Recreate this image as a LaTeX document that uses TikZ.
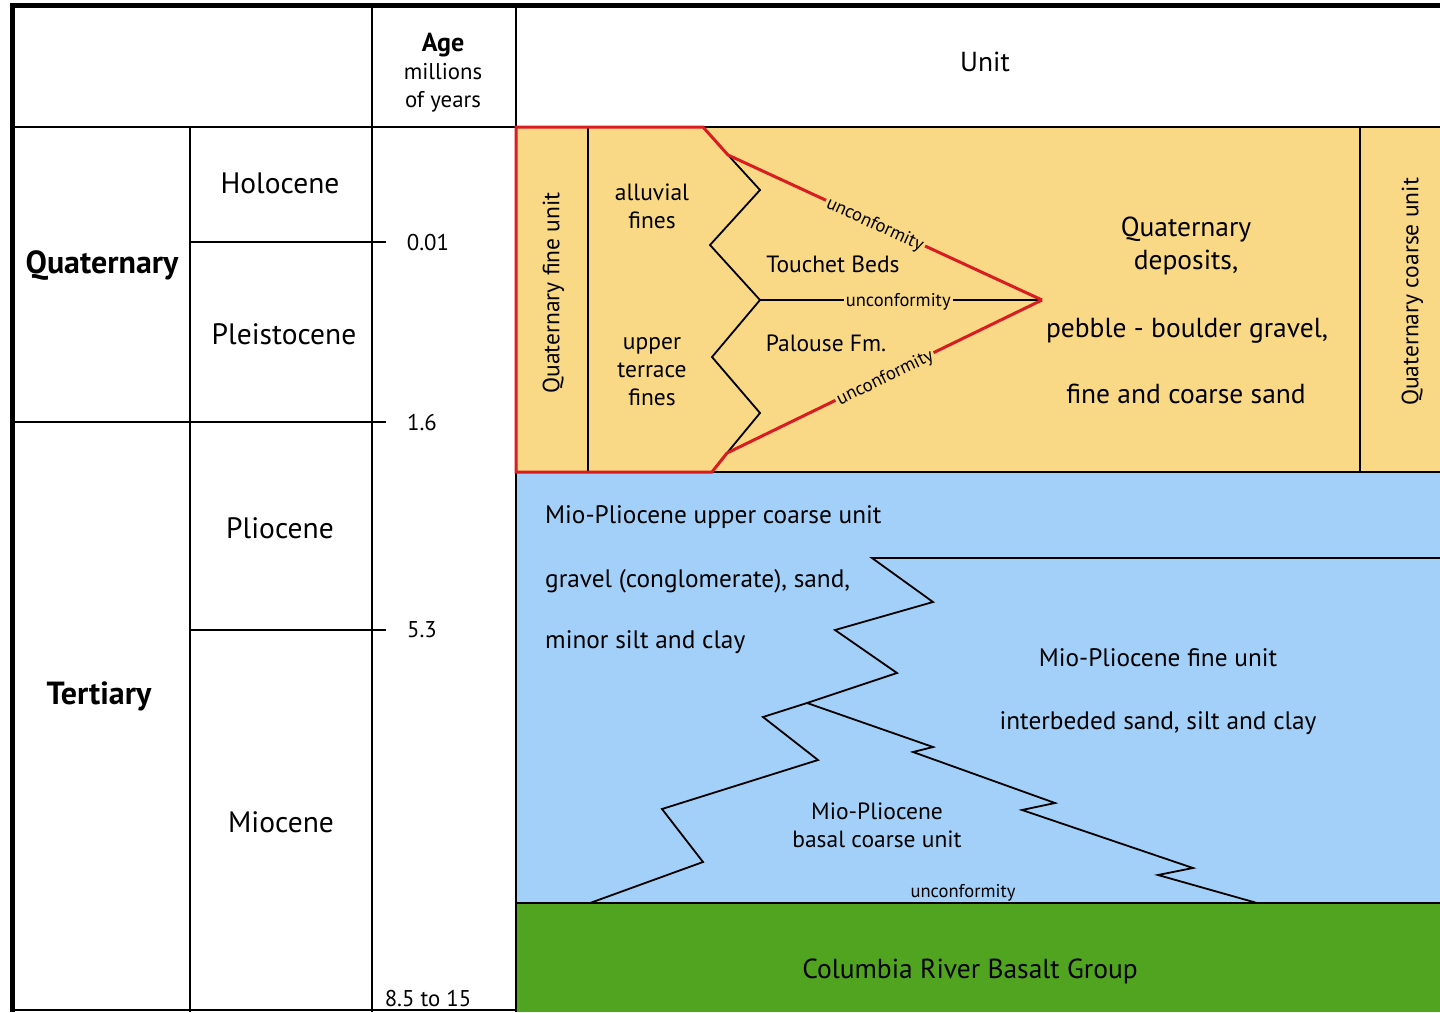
\documentclass[tikz,border=0pt]{standalone}
\usepackage{fontspec}
\setmainfont{PT Sans}
\usepackage{tikz}
\definecolor{sandyellow}{RGB}{249,217,134}
\definecolor{mioblue}{RGB}{163,208,248}
\definecolor{basaltgreen}{RGB}{80,164,32}
\definecolor{unconfred}{RGB}{216,28,34}
\newcommand{\unitfont}{\fontsize{23.5}{28}\selectfont}
\newcommand{\smallunitfont}{\fontsize{18.5}{20}\selectfont}
\tikzstyle{gridline}=[line width=1.6pt]
\tikzstyle{frameline}=[line width=5pt]
\tikzstyle{contact}=[line width=1.8pt, line join=miter]
\tikzstyle{redcontact}=[draw=unconfred, line width=3pt, line join=miter]
\tikzstyle{unittext}=[inner sep=0, font=\unitfont, align=center]
\tikzstyle{bigunittext}=[unittext, font=\fontsize{27.5}{33}\selectfont]
\tikzstyle{miotext}=[unittext, font=\fontsize{25.3}{30}\selectfont]
\tikzstyle{epochtext}=[unittext, font=\fontsize{29.5}{34}\selectfont]
\tikzstyle{boldtext}=[unittext, font=\fontsize{32}{36}\selectfont\bfseries]
\tikzstyle{agetext}=[inner sep=0, font=\fontsize{22.8}{28}\selectfont, align=center]
\tikzstyle{smalltext}=[inner sep=2pt, font=\smallunitfont]
\tikzstyle{stratcolumn}=[x=1pt, y=-1pt,
                         % every coordinate below is in pixels of the chart
                         every node/.style={text depth=0pt}]

\begin{document}
\begin{tikzpicture}[stratcolumn]
    \useasboundingbox (0,0) rectangle (1440,1012);
    % unit fills
    \fill[sandyellow] (516,127) rectangle (1440,472);
    \fill[mioblue] (516,472) rectangle (1440,903);
    \fill[basaltgreen] (516,903) rectangle (1440,1012);

    % table grid
    \draw[gridline] (12,127) -- (1440,127);
    \draw[gridline] (372,5) -- (372,1012);
    \draw[gridline] (516,5) -- (516,1012);
    \draw[gridline] (190,127) -- (190,1012);
    \draw[gridline] (190,242) -- (386,242);
    \draw[gridline] (12,422) -- (386,422);
    \draw[gridline] (190,630) -- (386,630);
    \draw[gridline] (12,1010) -- (516,1010);
    \draw[gridline] (588,127) -- (588,472);
    \draw[gridline] (1360,127) -- (1360,472);
    \draw[gridline] (516,472) -- (1440,472);
    \draw[gridline] (516,903) -- (1440,903);
    \draw[frameline] (10,5) -- (1440,5);
    \draw[frameline] (12,5) -- (12,1012);

    % quaternary contacts
    \coordinate (q1) at (728,155);
    \coordinate (q2) at (760,190);
    \coordinate (q3) at (710,245);
    \coordinate (q4) at (760,300);
    \coordinate (q5) at (712,357);
    \coordinate (q6) at (760,413);
    \coordinate (q7) at (727,453);
    \coordinate (apex) at (1042,300);
    \draw[contact] (q1) -- (q2) -- (q3) -- (q4) -- (q5) -- (q6) -- (q7);
    \draw[contact] (q4) -- node[smalltext, fill=sandyellow, pos=0.49] (uncmid) {unconformity} (apex);
    \draw[redcontact] (q1) -- (703,127) -- (516,127) -- (516,472) -- (712,472) -- (q7);
    \draw[redcontact] (q1) -- node[smalltext, sloped, fill=sandyellow, pos=0.47] (uncup) {unconformity} (apex);
    \draw[redcontact] (q7) -- node[smalltext, sloped, fill=sandyellow, pos=0.5] (unclow) {unconformity} (apex);

    % mio-pliocene contacts
    \coordinate (b1) at (872,558);
    \coordinate (b2) at (933,602);
    \coordinate (b3) at (835,630);
    \coordinate (b4) at (897,673);
    \coordinate (b5) at (807,703);
    \coordinate (b6) at (763,717);
    \coordinate (b7) at (818,760);
    \coordinate (b8) at (662,809);
    \coordinate (b9) at (703,862);
    \coordinate (b10) at (590,903);
    \coordinate (c1) at (933,747);
    \coordinate (c2) at (913,752);
    \coordinate (c3) at (1055,803);
    \coordinate (c4) at (1022,810);
    \coordinate (c5) at (1193,868);
    \coordinate (c6) at (1158,875);
    \coordinate (c7) at (1257,903);
    \draw[contact] (1440,558) -- (b1) -- (b2) -- (b3) -- (b4) -- (b5) -- (b6) -- (b7) -- (b8) -- (b9) -- (b10);
    \draw[contact] (b5) -- (c1) -- (c2) -- (c3) -- (c4) -- (c5) -- (c6) -- (c7);

    % header
    \node[agetext] (age) at (443,70) {{\fontsize{26}{28}\selectfont\bfseries Age}\\millions\\of years};
    \node[bigunittext] (unit) at (985,62) {Unit};

    % periods and epochs
    \node[boldtext] (quat) at (102,262) {Quaternary};
    \node[boldtext] (tert) at (99,693) {Tertiary};
    \node[epochtext] (holo) at (280,183) {Holocene};
    \node[epochtext] (pleist) at (284,334) {Pleistocene};
    \node[epochtext] (plio) at (280,528) {Pliocene};
    \node[epochtext] (mio) at (281,822) {Miocene};

    % ages
    \node[agetext] (a001) at (428,242) {0.01};
    \node[agetext] (a16) at (422,422) {1.6};
    \node[agetext] (a53) at (422,630) {5.3};
    \node[agetext] (a85) at (428,998) {8.5 to 15};

    % quaternary units
    \node[unittext, rotate=90] (qfine) at (551,293) {Quaternary fine unit};
    \node[unittext] (alluv) at (652,206) {alluvial\\fines};
    \node[unittext] (terrace) at (652,371) {upper\\terrace\\fines};
    \node[unittext] (touchet) at (833,264) {Touchet Beds};
    \node[unittext] (palouse) at (826,343) {Palouse Fm.};
    \node[bigunittext] (qdep) at (1186,243) {Quaternary\\deposits,};
    \node[bigunittext] (pebble) at (1187,328) {pebble - boulder gravel,};
    \node[bigunittext] (sand) at (1186,394) {fine and coarse sand};
    \node[unittext, rotate=90] (qcoarse) at (1410,292) {Quaternary coarse unit};

    % mio-pliocene units
    \node[miotext, anchor=west] (mpupper) at (545,515) {Mio-Pliocene upper coarse unit};
    \node[miotext, anchor=west] (mpgravel) at (545,578) {gravel (conglomerate), sand,};
    \node[miotext, anchor=west] (mpsilt) at (545,640) {minor silt and clay};
    \node[miotext] (mpfine) at (1158,658) {Mio-Pliocene fine unit};
    \node[miotext] (mpinter) at (1158,721) {interbeded sand, silt and clay};
    \node[unittext] (mpbasal) at (877,825) {Mio-Pliocene\\basal coarse unit};
    \node[smalltext] (uncbase) at (963,891) {unconformity};
    \node[bigunittext] (crbg) at (970,969) {Columbia River Basalt Group};
\end{tikzpicture}
\end{document}
